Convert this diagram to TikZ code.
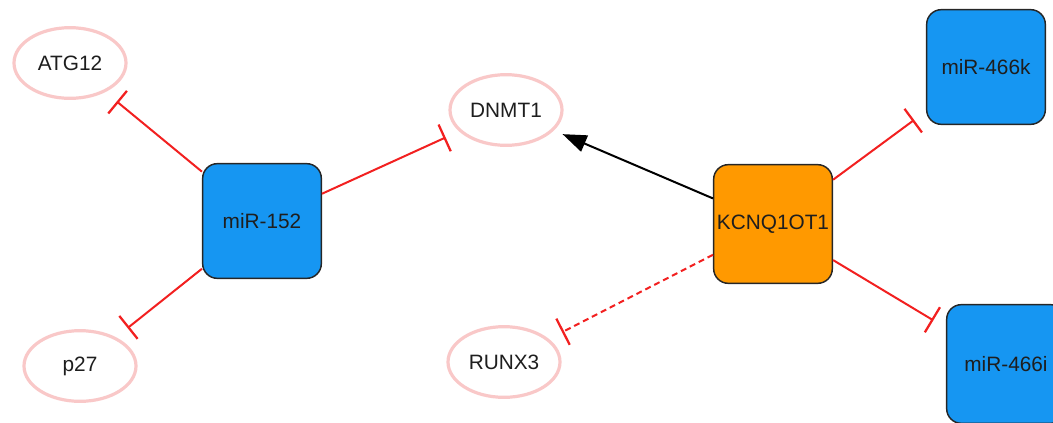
\documentclass[tikz,border=0pt]{standalone}
\usepackage{fontspec}
\setmainfont{Liberation Sans}
\usetikzlibrary{arrows.meta,shapes.geometric}
\definecolor{inhred}{RGB}{242,32,32}
\definecolor{ringpink}{RGB}{249,200,200}
\definecolor{mirblue}{RGB}{22,150,242}
\definecolor{lncorange}{RGB}{255,153,0}
\definecolor{labelink}{RGB}{30,30,30}
\begin{document}
\begin{tikzpicture}[x=0.75pt,y=-0.75pt,
  every node/.style={font=\fontsize{15.6}{18}\selectfont, text=labelink},
  gene/.style={ellipse, draw=ringpink, line width=2.4pt, fill=white,
    minimum width=84pt, minimum height=53pt, inner sep=0pt},
  regbox/.style={rectangle, rounded corners=11pt, draw=black!85, line width=1.1pt,
    minimum width=89pt, minimum height=86pt, inner sep=0pt},
  mirbox/.style={regbox, fill=mirblue},
  lncbox/.style={regbox, fill=lncorange},
  inhibit/.style={draw=inhred, line width=1.5pt, shorten >=11pt,
    -{Bar[width=22pt,line width=1.7pt]}},
  activate/.style={draw=black, line width=1.5pt, shorten >=7pt,
    -{Triangle[length=18pt,width=13pt]}},
  weak/.style={dash pattern=on 4.5pt off 3pt}
]
\useasboundingbox (0,0) rectangle (1053,422);
\clip (0,0) rectangle (1053,422);

% target genes
\node[gene] (atg12) at (70,63)  {ATG12};
\node[gene] (p27)   at (80,366) {p27};
\node[gene] (dnmt1) at (506,110) {DNMT1};
\node[gene] (runx3) at (504,362) {RUNX3};

% regulators
\node[mirbox] (m152) at (262,221) {miR-152};
\node[lncbox, minimum height=89pt] (kcnq) at (773,224) {KCNQ1OT1};
\node[mirbox] (m466k) at (986,67) {miR-466k};
\node[mirbox, minimum height=89pt] (m466i) at (1006,364) {miR-466i};

% miR-152 interactions
\draw[inhibit] (m152) -- (atg12);
\draw[inhibit] (m152) -- (p27);
\draw[inhibit] (m152) -- (dnmt1);

% KCNQ1OT1 interactions
\draw[activate] (kcnq) -- (dnmt1);
\draw[inhibit, weak] (kcnq) -- (runx3);
\draw[inhibit] (kcnq) -- (m466k);
\draw[inhibit] (kcnq) -- (m466i);
\end{tikzpicture}
\end{document}
